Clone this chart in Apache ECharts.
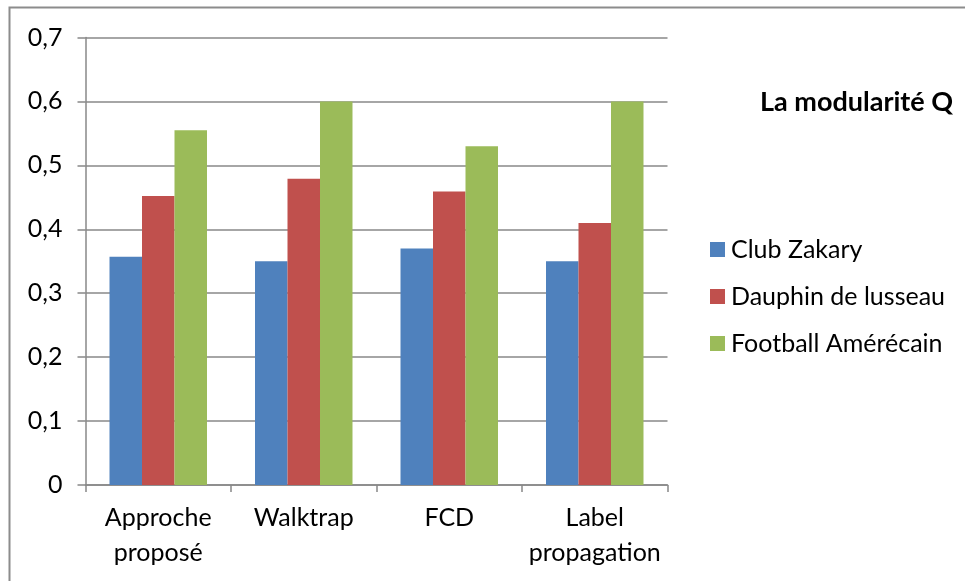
<!DOCTYPE html>
<html>
<head>
<meta charset="utf-8">
<script src="https://cdn.jsdelivr.net/npm/echarts@6/dist/echarts.min.js"></script>
<style>
  html, body { margin: 0; padding: 0; background: #fff; }
  #chart { width: 965px; height: 581px; }
</style>
</head>
<body>
<div id="chart"></div>
<script>
// Community detection methods compared on three networks
const categories = ['Approche\nproposé', 'Walktrap', 'FCD', 'Label\npropagation'];
const seriesNames = ['Club Zakary', 'Dauphin de lusseau', 'Football Amérécain'];
const clubZakary = [0.357, 0.35, 0.37, 0.35];
const dauphinLusseau = [0.452, 0.479, 0.459, 0.41];
const footballAmericain = [0.555, 0.6, 0.53, 0.6];
const yTicks = { min: 0, max: 0.7, interval: 0.1 };

const colors = ['#4F81BD', '#C0504D', '#9BBB59'];
const values = [clubZakary, dauphinLusseau, footballAmericain];
const font = 'Lato, "Open Sans", sans-serif';
const gray = '#888888';

const chart = echarts.init(document.getElementById('chart'), null, { renderer: 'canvas' });
chart.setOption({
  animation: false,
  backgroundColor: '#ffffff',
  graphic: [
    { type: 'polyline', shape: { points: [[9.5, 581], [9.5, 7.5], [965, 7.5]] },
      style: { stroke: '#8c8c8c', lineWidth: 2, fill: null } },
    { type: 'text', left: 760, top: 89,
      style: { text: 'La modularité Q', font: 'bold 27px ' + font, fill: '#000' } }
  ],
  legend: {
    orient: 'vertical',
    left: 705,
    top: 232,
    itemWidth: 15,
    itemHeight: 15,
    itemGap: 22,
    icon: 'rect',
    textStyle: { fontFamily: font, fontSize: 25, color: '#000', padding: [0, 0, 0, 1] },
    data: seriesNames
  },
  grid: { left: 85.5, right: 297.5, top: 37.5, bottom: 96, containLabel: false },
  xAxis: {
    type: 'category',
    data: categories,
    axisLine: { lineStyle: { color: gray, width: 1.5 } },
    axisTick: { show: true, length: 7, alignWithLabel: false, lineStyle: { color: gray, width: 1.5 } },
    axisLabel: { fontFamily: font, fontSize: 25, color: '#000', margin: 15, lineHeight: 35, interval: 0 },
    splitLine: { show: false }
  },
  yAxis: {
    type: 'value',
    min: yTicks.min,
    max: yTicks.max,
    interval: yTicks.interval,
    axisLine: { show: true, lineStyle: { color: gray, width: 1.5 } },
    axisTick: { show: true, length: 8, lineStyle: { color: gray, width: 1.5 } },
    axisLabel: {
      fontFamily: font, fontSize: 25, color: '#000', margin: 23,
      formatter: v => (Math.round(v * 10) / 10).toString().replace('.', ',')
    },
    splitLine: { show: true, lineStyle: { color: gray, width: 1.5 } }
  },
  series: seriesNames.map((name, i) => ({
    name,
    type: 'bar',
    data: values[i],
    barGap: '0%',
    barCategoryGap: '33%',
    itemStyle: { color: colors[i] }
  }))
});
</script>
</body>
</html>
